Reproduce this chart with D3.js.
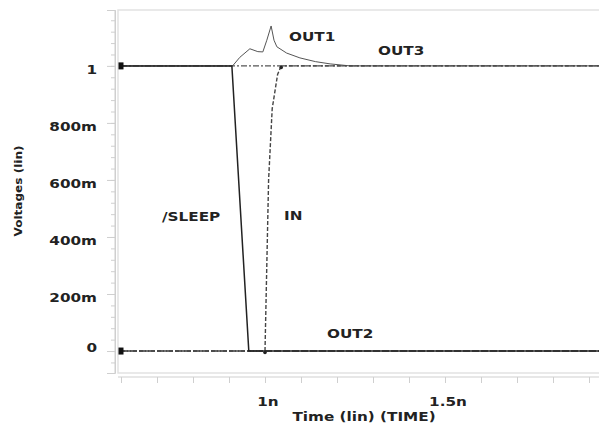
<!DOCTYPE html>
<html><head><meta charset="utf-8">
<script src="https://cdn.jsdelivr.net/npm/d3@7"></script>
<style>body{margin:0;background:#fff}svg{display:block}</style>
</head><body>
<svg id="c" width="599" height="427"></svg>
<script>
// time in ns, voltage in V
const sleepT = [0.6, 0.908, 0.955, 2.0];
const sleepV = [1, 1, 0, 0];
const inT = [0.6, 1.0, 1.005, 1.01, 1.02, 1.035, 1.045, 2.0];
const inV = [0, 0, 0.3, 0.6, 0.85, 0.97, 1, 1];
const out1T = [0.6, 0.91, 0.93, 0.958, 0.98, 0.994, 1.005, 1.017, 1.025, 1.033, 1.06, 1.097, 1.14, 1.181, 1.236, 2.0];
const out1V = [1, 1, 1.03, 1.06, 1.05, 1.049, 1.09, 1.14, 1.09, 1.067, 1.045, 1.028, 1.015, 1.007, 1.0, 1];
const out2T = [0.6, 2.0];
const out2V = [0, 0];
const out3T = [0.6, 2.0];
const out3V = [1, 1];
const yTickVals = [0, 0.2, 0.4, 0.6, 0.8, 1];
const yTickLabels = ["0", "200m", "400m", "600m", "800m", "1"];
const xTickVals = [1.0, 1.5];
const xTickLabels = ["1n", "1.5n"];

const svg = d3.select("#c");
const x = d3.scaleLinear().domain([0.6, 2.0]).range([121, 625]);
const y = d3.scaleLinear().domain([-0.077, 1.196]).range([373, 10]);
const font = "'DejaVu Sans', Verdana, sans-serif";
const SX = 1.25;

function label(parent, txt, px, py, anchor, fs, rot, sx) {
  const g = parent.append("g").attr("transform",
    `translate(${px},${py})` + (rot ? ` rotate(${rot})` : "") + ` scale(${sx || SX},1)`);
  g.append("text").attr("text-anchor", anchor || "start")
    .attr("font-family", font).attr("font-weight", "bold").attr("font-size", fs || 12.2)
    .attr("fill", "#222").text(txt);
}

// frame
svg.append("path").attr("d", `M599,10H118V373H599`).attr("fill","none").attr("stroke","#e2e2e2").attr("stroke-width",1.5);

// y axis (minor ticks)
const yMinor = d3.range(-0.04, 1.2, 0.04);
const yAx = svg.append("g").attr("transform","translate(115,0)");
yAx.call(d3.axisLeft(y).tickValues(yMinor).tickSize(4).tickFormat(""));
yAx.append("g").call(d3.axisLeft(y).tickValues(yTickVals).tickSize(8).tickFormat(""));
yAx.selectAll("path,line").attr("stroke","#cfcfcf").attr("stroke-width",1);
yAx.select(".domain").attr("d", `M0,${y(-0.077)}V${y(1.196)}`);
const yl = svg.append("g");
yTickVals.forEach((d, i) => label(yl, yTickLabels[i], 97, y(d) + (d === 0 ? 0.5 : 8), "end"));

// x axis
const xAx = svg.append("g").attr("transform","translate(0,377)");
xAx.call(d3.axisBottom(x).tickValues(d3.range(0.6, 2.0, 0.1)).tickSize(6).tickFormat(""));
xAx.selectAll("path,line").attr("stroke","#cfcfcf");
xAx.select(".domain").attr("d", `M118,0H599`);
const xl = svg.append("g");
xTickVals.forEach((d, i) => label(xl, xTickLabels[i], x(d) + 3, 406, "middle"));

// axis titles
label(svg, "Time (lin) (TIME)", 364, 421, "middle");
label(svg, "Voltages (lin)", 22, 191, "middle", 10.5, -90, 1.15);

// curves
svg.append("clipPath").attr("id","pc").append("rect").attr("x",118).attr("y",5).attr("width",481).attr("height",370);
const line = d3.line().x(d => x(d[0])).y(d => y(d[1]));
const zip = (t, v) => t.map((d,i) => [d, v[i]]);
const g = svg.append("g").attr("clip-path","url(#pc)");
g.append("path").datum(zip(out3T,out3V)).attr("d",line).attr("fill","none").attr("stroke","#555").attr("stroke-width",1.2).attr("stroke-dasharray","6,2,2,2");
g.append("path").datum(zip(out2T,out2V)).attr("d",line).attr("fill","none").attr("stroke","#333").attr("stroke-width",1.5).attr("stroke-dasharray","7,2");
g.append("path").datum(zip(out1T,out1V)).attr("d",line).attr("fill","none").attr("stroke","#555").attr("stroke-width",1);
g.append("path").datum(zip(inT,inV)).attr("d",line).attr("fill","none").attr("stroke","#444").attr("stroke-width",1.4).attr("stroke-dasharray","4,2");
g.append("path").datum(zip(sleepT,sleepV)).attr("d",line).attr("fill","none").attr("stroke","#222").attr("stroke-width",1.5);

// markers
const marks = [[0.6,1],[0.6,0]];
g.selectAll("rect.m").data(marks).join("rect").attr("class","m")
  .attr("x", d => x(d[0]) - 2.5).attr("y", d => y(d[1]) - 3.5).attr("width",5).attr("height",7).attr("fill","#111");
const small = [[1.0,0],[1.045,1]];
g.selectAll("circle.s").data(small).join("circle").attr("class","s")
  .attr("cx", d => x(d[0])).attr("cy", d => y(d[1]) + 1.5).attr("r",1.8).attr("fill","#222");

// series labels
const sl = svg.append("g");
[["OUT1", 289, 41], ["OUT3", 378, 55], ["/SLEEP", 162, 221], ["IN", 284, 220], ["OUT2", 327, 338]]
  .forEach(d => label(sl, d[0], d[1], d[2], "start"));
</script>
</body></html>
